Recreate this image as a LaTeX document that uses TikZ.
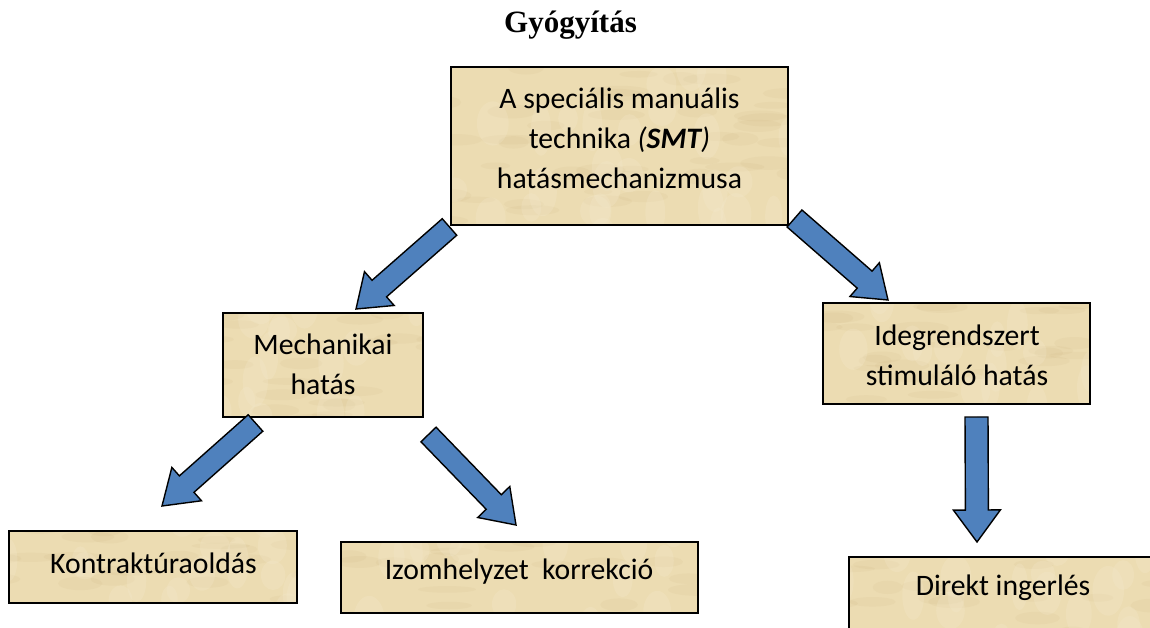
\documentclass[tikz,border=0pt]{standalone}
\usepackage{fontspec}
\setmainfont{Carlito}
\newfontfamily\titlefont{Liberation Serif}
\usetikzlibrary{calc}
\definecolor{papyrus}{RGB}{236,220,178}
\definecolor{papyrusdark}{RGB}{210,186,136}
\definecolor{papyruslight}{RGB}{246,236,210}
\definecolor{arrowblue}{RGB}{79,129,189}
\pgfmathsetseed{4711}
\tikzset{
  box/.style={draw=black, line width=1.7pt, fill=papyrus, rectangle, inner sep=0pt,
    path picture={
      \foreach \i in {1,...,45}{
        \fill[papyrusdark, opacity=.14]
          ($(path picture bounding box.center)+({rand*180},{rand*90})$)
          ellipse [x radius={14+16*rnd}, y radius={3+4*rnd}];}
      \foreach \i in {1,...,30}{
        \fill[papyruslight, opacity=.22]
          ($(path picture bounding box.center)+({rand*180},{rand*90})$)
          ellipse [x radius={8+8*rnd}, y radius={12+14*rnd}];}
    }},
  txt/.style={font=\fontsize{29.7}{40}\selectfont, align=center, inner sep=0pt},
  blockarrow/.style={draw=black, line width=1.4pt, fill=arrowblue, line join=miter},
}
% #1 tail, #2 tip, #3 half shaft width, #4 half head width, #5 head length
\newcommand\blockarrow[5]{%
  \coordinate (#1-h) at ($(#2)!#5pt!(#1)$);
  \draw[blockarrow] ($(#1)!#3pt!90:(#2)$) -- ($(#1-h)!#3pt!90:(#2)$)
    -- ($(#1-h)!#4pt!90:(#2)$) -- (#2) -- ($(#1-h)!#4pt!-90:(#2)$)
    -- ($(#1-h)!#3pt!-90:(#2)$) -- ($(#1)!#3pt!-90:(#2)$) -- cycle;}
\begin{document}
\begin{tikzpicture}[x=1pt,y=-1pt]
\useasboundingbox (0,0) rectangle (1150,628);
\clip (0,0) rectangle (1150,628);
\fill[white] (0,0) rectangle (1150,628);

\node[font=\titlefont\bfseries\fontsize{31}{36}\selectfont, anchor=base, inner sep=0pt] (title) at (570.5,33) {Gyógyítás};

% boxes
\node[box, minimum width=337pt, minimum height=158pt] (top) at (619.5,146) {};
\node[box, minimum width=200pt, minimum height=104pt] (mech) at (323,365) {};
\node[box, minimum width=267pt, minimum height=101pt] (ideg) at (956.5,353.5) {};
\node[box, minimum width=288pt, minimum height=72pt] (kont) at (153,567) {};
\node[box, minimum width=357pt, minimum height=71pt] (izom) at (519.5,577.5) {};
\node[box, minimum width=309pt, minimum height=103pt] (direkt) at (1003.5,608.5) {};

% texts
\node[txt] (top-t) at (619.5,138) {A speciális manuális\\technika \textit{(\textbf{SMT})}\\hatásmechanizmusa};
\node[txt] (mech-t) at (323,364.5) {Mechanikai\\hatás};
\node[txt] (ideg-t) at (957,355) {Idegrendszert\\stimuláló hatás};
\node[txt] (kont-t) at (153.5,563) {Kontraktúraoldás};
\node[txt] (izom-t) at (519,572) {Izomhelyzet\ \ korrekció};
\node[txt] (direkt-t) at (1003,588) {Direkt ingerlés};

% arrow end points
\coordinate (t1) at (449.5,227);  \coordinate (p1) at (356,309);
\coordinate (t2) at (794.5,218.5); \coordinate (p2) at (888,300);
\coordinate (t3) at (255.5,423);  \coordinate (p3) at (162,506);
\coordinate (t4) at (428.5,434.5); \coordinate (p4) at (516,525);
\coordinate (t5) at (976.5,417);  \coordinate (p5) at (977,542);

\blockarrow{t1}{p1}{11}{22.5}{31}
\blockarrow{t2}{p2}{11.3}{22.4}{31}
\blockarrow{t3}{p3}{11}{22.3}{33}
\blockarrow{t4}{p4}{10.5}{22.3}{32}
\blockarrow{t5}{p5}{11.5}{23.5}{32}
\end{tikzpicture}
\end{document}
